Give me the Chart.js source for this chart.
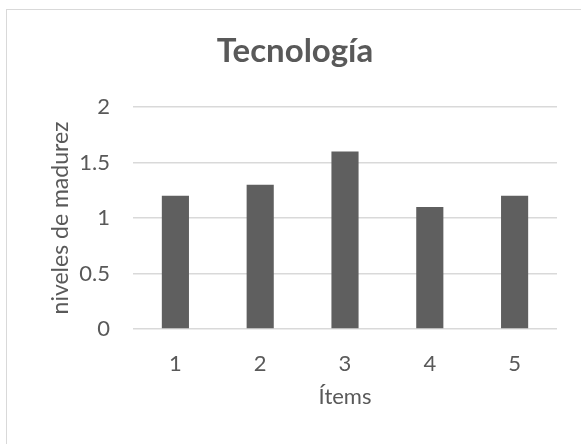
<!DOCTYPE html>
<html>
<head>
<meta charset="utf-8">
<script src="https://cdn.jsdelivr.net/npm/chart.js@4"></script>
<style>
  html, body { margin: 0; padding: 0; background: #fff; overflow: hidden; }
  #wrap { position: relative; width: 581px; height: 444px; }
  #frame { position: absolute; left: 6px; top: 9px; width: 600px; height: 460px;
           border: 1px solid #d9d9d9; box-sizing: border-box; }
  canvas { position: absolute; left: 0; top: 0; }
</style>
</head>
<body>
<div id="wrap">
  <div id="frame"></div>
  <canvas id="chart" width="581" height="444"></canvas>
</div>
<script>
const chartTitle = 'Tecnología';
const categories = ['1', '2', '3', '4', '5'];
const madurez = [1.2, 1.3, 1.6, 1.1, 1.2];
const yTicks = [0, 0.5, 1, 1.5, 2];
const yTitle = 'niveles de madurez';
const xTitle = 'Ítems';

const FONT = 'Lato, "Open Sans", sans-serif';
const TEXT = '#595959';

// Bold heading drawn centred over the framed area
const titlePlugin = {
  id: 'frameTitle',
  afterDraw(chart) {
    const ctx = chart.ctx;
    ctx.save();
    ctx.font = 'bold 33px ' + FONT;
    ctx.fillStyle = TEXT;
    ctx.textAlign = 'center';
    ctx.textBaseline = 'alphabetic';
    ctx.fillText(chartTitle, 295, 62);
    ctx.restore();
  }
};

new Chart(document.getElementById('chart'), {
  type: 'bar',
  data: {
    labels: categories,
    datasets: [{
      data: madurez,
      backgroundColor: '#5f5f5f',
      borderWidth: 0,
      categoryPercentage: 1,
      barPercentage: 0.32
    }]
  },
  options: {
    responsive: false,
    animation: false,
    layout: { padding: { top: 107, right: 24, left: 43, bottom: 0 } },
    plugins: { legend: { display: false }, tooltip: { enabled: false } },
    scales: {
      x: {
        grid: { display: false, drawTicks: false },
        border: { display: false },
        ticks: { color: TEXT, font: { family: FONT, size: 22 }, padding: 22 },
        title: { display: true, text: xTitle, color: TEXT,
                 font: { family: FONT, size: 22 }, padding: { top: 0, bottom: 34 } },
        afterFit(scale) { scale.height = 444 - 329; }
      },
      y: {
        min: 0, max: 2,
        afterBuildTicks(scale) { scale.ticks = yTicks.map(v => ({ value: v })); },
        grid: { color: '#d9d9d9', lineWidth: 1.5, drawTicks: false },
        border: { display: false },
        ticks: { color: TEXT, font: { family: FONT, size: 22 }, padding: 23,
                 callback: v => String(v) },
        title: { display: true, text: yTitle, color: TEXT,
                 font: { family: FONT, size: 23 }, padding: { top: 4, bottom: 4 } },
        afterFit(scale) { scale.width = 133 - 43; }
      }
    }
  },
  plugins: [titlePlugin]
});
</script>
</body>
</html>
